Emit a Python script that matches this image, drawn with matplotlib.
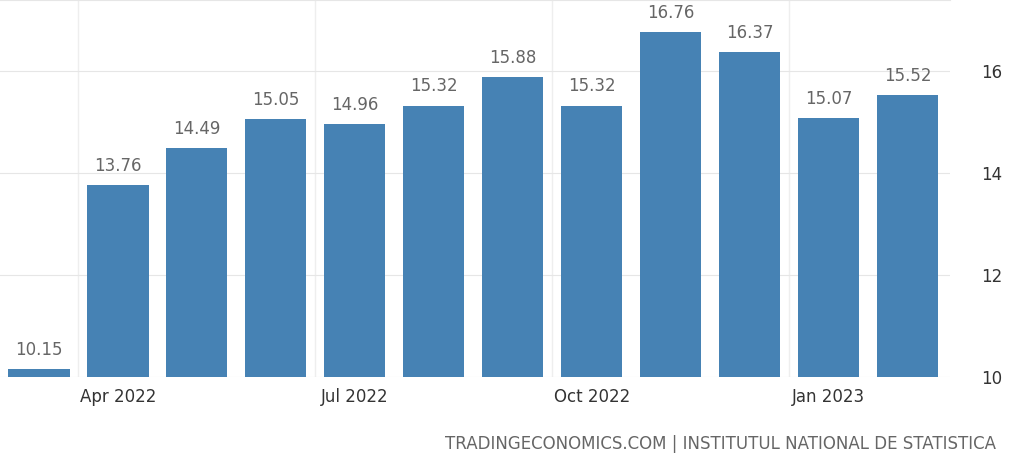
import matplotlib.pyplot as plt

months = ['Mar 2022', 'Apr 2022', 'May 2022', 'Jun 2022', 'Jul 2022', 'Aug 2022',
          'Sep 2022', 'Oct 2022', 'Nov 2022', 'Dec 2022', 'Jan 2023', 'Feb 2023']
values = [10.15, 13.76, 14.49, 15.05, 14.96, 15.32, 15.88, 15.32, 16.76, 16.37, 15.07, 15.52]
tick_pos = [1, 4, 7, 10]
tick_labels = ['Apr 2022', 'Jul 2022', 'Oct 2022', 'Jan 2023']

fig = plt.figure(figsize=(10.24, 4.62), dpi=100)
ax = fig.add_axes([0.0, 0.184, 0.928, 0.816])

x = list(range(len(values)))
ax.bar(x, values, width=0.78, color='#4682b4', zorder=2)
for i, v in zip(x, values):
    ax.text(i, v + 0.2, f'{v:.2f}', ha='center', va='bottom', fontsize=12, color='#666666')

ax.set_xlim(-0.49, 11.54)
ax.set_ylim(10, 17.39)
ax.set_yticks([10, 12, 14, 16])
ax.yaxis.tick_right()
ax.set_xticks(tick_pos)
ax.set_xticklabels(tick_labels)
ax.tick_params(axis='both', length=0, labelsize=12, colors='#333333', pad=8)
ax.tick_params(axis='y', pad=22)
ax.grid(axis='y', color='#e6e6e6', zorder=0)
for gx in [0.5, 3.5, 6.5, 9.5]:
    ax.axvline(gx, color='#eeeeee', lw=1, zorder=0)
for s in ['left', 'right', 'bottom']:
    ax.spines[s].set_visible(False)
ax.spines['top'].set_color('#e6e6e6')

fig.text(0.973, 0.04, 'TRADINGECONOMICS.COM | INSTITUTUL NATIONAL DE STATISTICA',
         ha='right', va='center', fontsize=12, color='#666666')

fig.savefig('out.png')
